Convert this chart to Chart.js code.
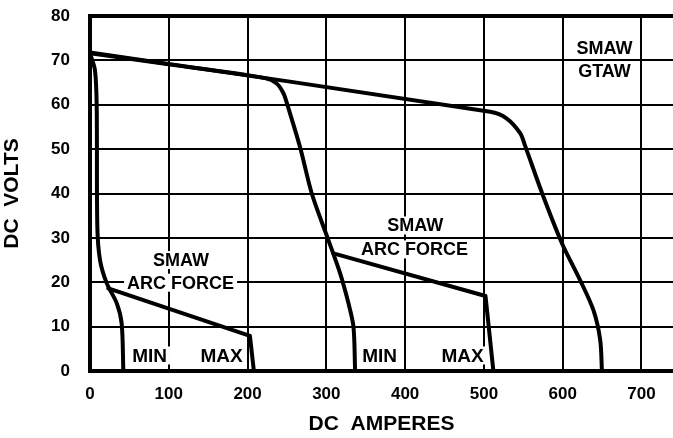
<!DOCTYPE html>
<html>
<head>
<meta charset="utf-8">
<script src="https://cdn.jsdelivr.net/npm/chart.js@4"></script>
<style>
  body { margin: 0; background: #fff; }
  #wrap { width: 673px; height: 438px; }
</style>
</head>
<body>
<div id="wrap"><canvas id="grafik"></canvas></div>
<script>
// volt-ampere curves
const gtawAmps  = [0, 508, 529, 546, 552, 574, 599, 622, 639, 647.6, 649.8];
const gtawVolts = [71.8, 58.4, 56.9, 53.6, 50.9, 40, 28.8, 20.5, 13.7, 7, 0];

const midAmps  = [0, 100, 222, 237, 245.5, 250, 267, 281.5, 302.6, 317.5, 328, 334.4, 336.5];
const midVolts = [71.6, 69.1, 66, 64.8, 62.6, 60.3, 50.2, 40, 29.5, 22, 15.3, 10, 0];

const lowAmps  = [0, 6.3, 8.5, 9.3, 12.7, 21.2, 33.9, 40.2, 42.3];
const lowVolts = [71.6, 67.8, 59.6, 32.5, 25, 19.8, 15.3, 10.7, 0];

const arcLowAmps  = [23.3, 203, 208];
const arcLowVolts = [18.6, 7.9, 0];
const arcHighAmps  = [309, 502, 512];
const arcHighVolts = [26.5, 16.9, 0];

const ampTicks = [0, 100, 200, 300, 400, 500, 600, 700];
const voltTicks = [0, 10, 20, 30, 40, 50, 60, 70, 80];

function pts(xs, ys) { return xs.map((x, i) => ({ x: x, y: ys[i] })); }

function curve(xs, ys, tension) {
  return {
    data: pts(xs, ys),
    showLine: true,
    borderColor: '#000',
    borderWidth: 4,
    pointRadius: 0,
    tension: tension,
    borderCapStyle: 'round',
    borderJoinStyle: 'round'
  };
}

// boxed captions, white behind so the grid breaks around them
const captions = {
  id: 'captions',
  beforeDatasetsDraw(chart) {
    const { ctx, scales: { x, y } } = chart;
    const items = [
      ['SMAW', 653, 72.7, 18], ['GTAW', 653, 67.7, 18],
      ['SMAW', 115.6, 25, 18], ['ARC FORCE', 115, 19.9, 18],
      ['SMAW', 412.7, 32.8, 18], ['ARC FORCE', 412, 27.4, 18],
      ['MIN', 75.6, 3.5, 19], ['MAX', 167, 3.5, 19],
      ['MIN', 367.6, 3.5, 19], ['MAX', 473, 3.5, 19]
    ];
    ctx.save();
    ctx.textAlign = 'center';
    ctx.textBaseline = 'middle';
    items.forEach(([t, ax, vy, size]) => {
      ctx.font = 'bold ' + size + 'px "Liberation Sans", Arial, sans-serif';
      const px = x.getPixelForValue(ax), py = y.getPixelForValue(vy);
      const w = ctx.measureText(t).width;
      ctx.fillStyle = '#fff';
      ctx.fillRect(px - w / 2 - 3, py - 9, w + 6, 18);
      ctx.fillStyle = '#000';
      ctx.fillText(t, px, py + 1);
    });
    ctx.restore();
  }
};

const tickFont = { family: '"Liberation Sans", Arial, sans-serif', size: 17, weight: 'bold' };
const titleFont = { family: '"Liberation Sans", Arial, sans-serif', size: 21, weight: 'bold' };

new Chart(document.getElementById('grafik').getContext('2d'), {
  type: 'scatter',
  data: {
    datasets: [
      curve(gtawAmps, gtawVolts, 0.3),
      curve(midAmps, midVolts, 0.3),
      curve(lowAmps, lowVolts, 0.3),
      curve(arcLowAmps, arcLowVolts, 0),
      curve(arcHighAmps, arcHighVolts, 0)
    ]
  },
  options: {
    responsive: true,
    maintainAspectRatio: false,
    animation: false,
    layout: { padding: { top: 16, left: 0, right: 0, bottom: 0 } },
    plugins: { legend: { display: false }, tooltip: { enabled: false } },
    scales: {
      x: {
        type: 'linear',
        min: 0,
        max: 740,
        afterBuildTicks: s => { s.ticks = ampTicks.map(v => ({ value: v })); },
        afterFit: s => { s.height = 67; s.paddingLeft = 0; s.paddingRight = 0; },
        grid: { drawTicks: false, lineWidth: 2, color: '#000' },
        border: { color: '#000', width: 4 },
        ticks: { color: '#000', font: tickFont, padding: 13, maxRotation: 0 },
        title: { display: true, text: 'DC  AMPERES', color: '#000', font: titleFont, padding: { top: 0, bottom: 1 } }
      },
      y: {
        min: 0,
        max: 80,
        afterBuildTicks: s => { s.ticks = voltTicks.map(v => ({ value: v })); },
        afterFit: s => { s.width = 90; s.paddingTop = 0; s.paddingBottom = 0; },
        grid: {
          color: '#000',
          drawTicks: false,
          lineWidth: c => (c.tick && c.tick.value === 80 ? 4 : 2)
        },
        border: { color: '#000', width: 4 },
        ticks: { color: '#000', font: tickFont, padding: 20 },
        title: { display: true, text: 'DC  VOLTS', color: '#000', font: titleFont, padding: { top: 0, bottom: 6 } }
      }
    }
  },
  plugins: [captions]
});
</script>
</body>
</html>
